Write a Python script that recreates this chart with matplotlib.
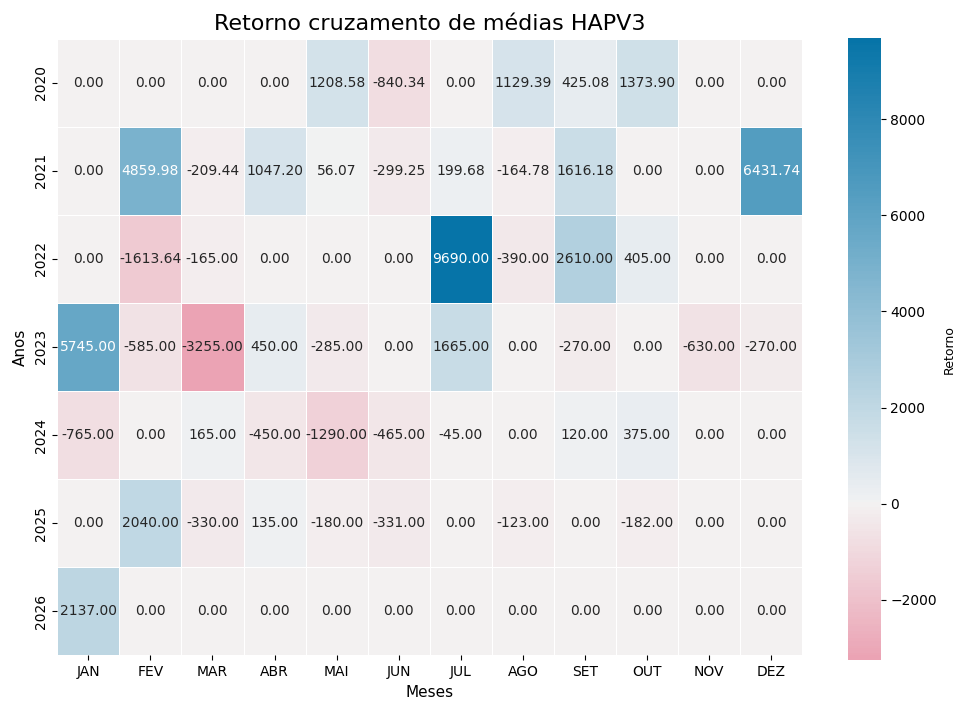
import matplotlib
matplotlib.use("Agg")
import matplotlib.pyplot as plt
import numpy as np
import pandas as pd
import seaborn as sns

anos = [2020, 2021, 2022, 2023, 2024, 2025, 2026]
meses = ["JAN", "FEV", "MAR", "ABR", "MAI", "JUN", "JUL", "AGO", "SET", "OUT", "NOV", "DEZ"]

r2020 = [0, 0, 0, 0, 1208.58, -840.34, 0, 1129.39, 425.08, 1373.90, 0, 0]
r2021 = [0, 4859.98, -209.44, 1047.20, 56.07, -299.25, 199.68, -164.78, 1616.18, 0, 0, 6431.74]
r2022 = [0, -1613.64, -165.00, 0, 0, 0, 9690.00, -390.00, 2610.00, 405.00, 0, 0]
r2023 = [5745.00, -585.00, -3255.00, 450.00, -285.00, 0, 1665.00, 0, -270.00, 0, -630.00, -270.00]
r2024 = [-765.00, 0, 165.00, -450.00, -1290.00, -465.00, -45.00, 0, 120.00, 375.00, 0, 0]
r2025 = [0, 2040.00, -330.00, 135.00, -180.00, -331.00, 0, -123.00, 0, -182.00, 0, 0]
r2026 = [2137.00, 0, 0, 0, 0, 0, 0, 0, 0, 0, 0, 0]

df = pd.DataFrame([r2020, r2021, r2022, r2023, r2024, r2025, r2026], index=anos, columns=meses)

# vermelho/rosa para negativo, azul para positivo
cmap = sns.diverging_palette(8, 240, s=99, l=46, as_cmap=True)

fig = plt.figure(figsize=(9.55, 7.01), dpi=100)
ax = fig.add_axes([0.06, 0.065, 0.78, 0.88])
cax = fig.add_axes([0.888, 0.058, 0.034, 0.888])

sns.heatmap(df, annot=True, fmt=".2f", cmap=cmap, center=0, linewidths=0.6, linecolor="white",
            ax=ax, cbar_ax=cax, cbar_kws={"label": "Retorno"}, annot_kws={"fontsize": 10})

ax.set_title("Retorno cruzamento de médias HAPV3", fontsize=16)
ax.set_xlabel("Meses", fontsize=11)
ax.set_ylabel("Anos", fontsize=11)
ax.tick_params(axis="both", labelsize=10)
cax.tick_params(labelsize=10)
cax.yaxis.label.set_size(9)
for s in cax.spines.values():
    s.set_visible(False)

fig.savefig("out.png", dpi=100)
